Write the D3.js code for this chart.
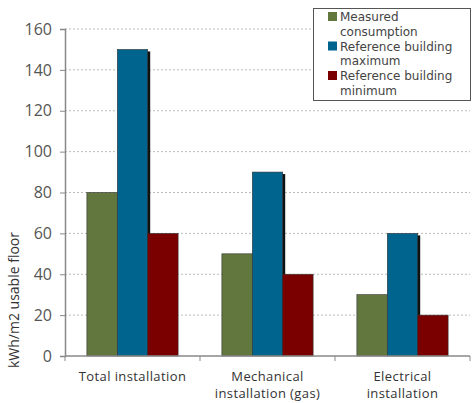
<!DOCTYPE html>
<html><head><meta charset="utf-8">
<script src="https://cdn.jsdelivr.net/npm/d3@7"></script>
<style>body{margin:0;background:#fff}svg{display:block}</style>
</head><body><svg id="c" width="472" height="403"></svg>
<script>
const categories = ["Total installation", "Mechanical installation (gas)", "Electrical installation"];
const categoryLines = [["Total installation"], ["Mechanical", "installation (gas)"], ["Electrical", "installation"]];
const seriesNames = ["Measured consumption", "Reference building maximum", "Reference building minimum"];
const seriesLegendLines = [["Measured", "consumption"], ["Reference building", "maximum"], ["Reference building", "minimum"]];
const measured = [80, 50, 30];
const refMax = [150, 90, 60];
const refMin = [60, 40, 20];
const yTicks = [0, 20, 40, 60, 80, 100, 120, 140, 160];
const colors = ["#61773d", "#00658e", "#7a0000"];

const series = [measured, refMax, refMin];
const svg = d3.select("#c");
const FONT = "'Open Sans', sans-serif";
const m = {l: 65, r: 2, t: 29, b: 47};
const W = 472, H = 403;
const x = d3.scaleBand().domain(categories).range([m.l, W - m.r]).paddingInner(0).paddingOuter(0);
const x1 = d3.scaleBand().domain(seriesNames).range([0, x.bandwidth()]).paddingOuter(0.72).paddingInner(0);
const y = d3.scaleLinear().domain([0, 160]).range([H - m.b, m.t]);

// gridlines
svg.append("g").selectAll("line").data(yTicks.filter(d => d > 0)).join("line")
  .attr("x1", m.l).attr("x2", W - m.r).attr("y1", d => y(d)).attr("y2", d => y(d))
  .attr("stroke", "#bbb").attr("stroke-dasharray", "2,2").attr("stroke-width", 1);

// bars
const g = svg.append("g");
categories.forEach((c, i) => {
  series.forEach((s, j) => {
    const bx = x(c) + x1(seriesNames[j]);
    const bw = x1.bandwidth();
    if (j === 1) {
      g.append("rect").attr("x", bx + 2.5).attr("y", y(s[i]) + 2).attr("width", bw).attr("height", y(0) - y(s[i]) - 2)
        .attr("fill", "#111");
    }
    g.append("rect").attr("x", bx).attr("y", y(s[i])).attr("width", bw).attr("height", y(0) - y(s[i]))
      .attr("fill", colors[j]).attr("stroke", "#333").attr("stroke-width", 0.6);
  });
});

// y axis
const ya = svg.append("g").attr("transform", `translate(${m.l},0)`)
  .call(d3.axisLeft(y).tickValues(yTicks).tickSize(5).tickPadding(8));
ya.select(".domain").attr("stroke", "#888").attr("stroke-width", 1.5);
ya.selectAll(".tick line").attr("stroke", "#888");
ya.selectAll(".tick text").attr("font-size", 16).attr("fill", "#555").attr("font-family", FONT);

// x axis
const xa = svg.append("g").attr("transform", `translate(0,${y(0)})`);
xa.append("line").attr("x1", m.l).attr("x2", W - m.r).attr("stroke", "#888").attr("stroke-width", 1.5);
const edges = categories.map(c => x(c)).concat([x.range()[1]]);
xa.selectAll("line.t").data(edges).join("line").attr("class", "t")
  .attr("x1", d => d).attr("x2", d => d).attr("y1", 0).attr("y2", 5).attr("stroke", "#888");
categories.forEach((c, i) => {
  const t = xa.append("text").attr("text-anchor", "middle").attr("font-family", FONT).attr("font-size", 13)
    .attr("letter-spacing", 0.4).attr("fill", "#333").attr("x", x(c) + x.bandwidth() / 2).attr("y", 25);
  categoryLines[i].forEach((ln, k) => t.append("tspan").attr("x", x(c) + x.bandwidth() / 2).attr("dy", k ? 17 : 0).text(ln));
});

// y title
svg.append("text").attr("transform", `translate(19,${y(0) - 56}) rotate(-90)`).attr("text-anchor", "middle")
  .attr("font-family", FONT).attr("font-size", 14).attr("fill", "#333").text("kWh/m2 usable floor");

// legend
const lg = svg.append("g");
lg.append("rect").attr("x", 313.5).attr("y", 8.5).attr("width", 157).attr("height", 92)
  .attr("fill", "#fff").attr("stroke", "#555").attr("stroke-width", 1);
seriesLegendLines.forEach((lines, j) => {
  const yy = 21 + j * 29.5;
  lg.append("rect").attr("x", 328).attr("y", yy - 9).attr("width", 9).attr("height", 9).attr("fill", colors[j]);
  lines.forEach((ln, k) => lg.append("text").attr("x", 340).attr("y", yy + k * 14.6)
    .attr("font-family", "'DejaVu Sans', sans-serif").attr("font-size", 12)
    .attr("fill", "#444").text(ln));
});
</script></body></html>
